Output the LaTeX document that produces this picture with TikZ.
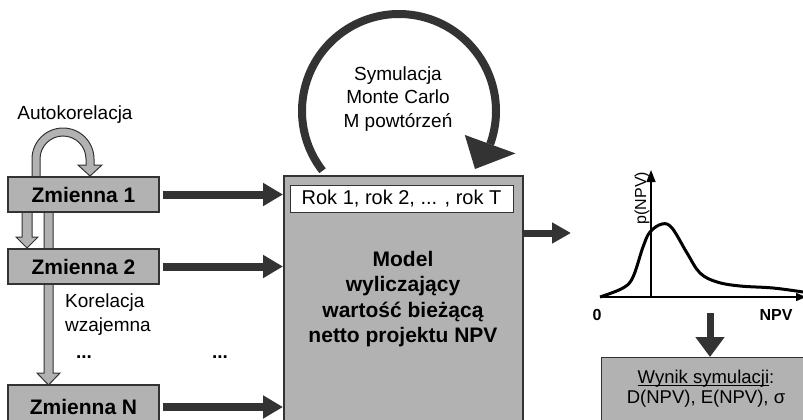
\documentclass[tikz,border=0pt]{standalone}
\usepackage{fontspec}
\setmainfont{Liberation Sans}
\usetikzlibrary{arrows.meta,calc}
\definecolor{boxgrey}{HTML}{B2B2B2}
\definecolor{ink}{HTML}{333333}
% underline set just below the baseline, crossing descenders
\newcommand\ulinetext[1]{\leavevmode\sbox0{#1}\rlap{\rule[-2.2pt]{\wd0}{0.9pt}}\box0}

\begin{document}
\begin{tikzpicture}[x=1pt,y=1pt,
  varbox/.style={draw=ink, line width=1.2pt, fill=boxgrey, minimum width=151pt,
    minimum height=35pt, inner sep=0pt, font=\fontsize{21}{25}\selectfont\bfseries},
  flowarrow/.style={draw=ink, line width=8pt, -{Triangle[length=20pt,width=22pt]}},
  hollowarrow/.style={draw=ink, line width=1pt, fill=boxgrey},
  txt/.style={font=\fontsize{19}{23.5}\selectfont, inner sep=0pt, align=center},
  axisline/.style={draw=black, line width=1.5pt},
]
\useasboundingbox (0,0) rectangle (803,-420);
\clip (0,0) rectangle (803,-420);

% --- correlation arrows behind the variable boxes ---
\filldraw[hollowarrow] (32,-180) -- (32,-159) arc[start angle=180, end angle=0, radius=31]
  -- (94,-165) -- (102,-165) -- (90,-176) -- (78,-165) -- (86,-165)
  -- (86,-159) arc[start angle=0, end angle=180, radius=23] -- (40,-180) -- cycle;
\filldraw[hollowarrow] (22,-205) -- (22,-237) -- (16,-237) -- (27,-248) -- (38,-237)
  -- (32,-237) -- (32,-205) -- cycle;
\filldraw[hollowarrow] (44,-205) -- (44,-373) -- (37,-373) -- (48.5,-385) -- (60,-373)
  -- (53,-373) -- (53,-205) -- cycle;

% --- input variables ---
\node[varbox] (z1) at (83.5,-194.5) {Zmienna 1};
\node[varbox] (z2) at (83.5,-266.5) {Zmienna 2};
\node[varbox, minimum height=44pt] (zN) at (83.5,-407) {Zmienna N};

\node[txt] (auto) at (75,-115) {Autokorelacja};
\node[txt, align=left, anchor=west, font=\fontsize{19}{24}\selectfont] (korel) at (65,-315) {Korelacja\\wzajemna};
\node[txt, font=\fontsize{19}{23.5}\selectfont\bfseries] (dots1) at (84,-357) {...};
\node[txt, font=\fontsize{19}{23.5}\selectfont\bfseries] (dots2) at (220,-357) {...};

% --- NPV model ---
\node[draw=ink, line width=1.5pt, fill=boxgrey, minimum width=239pt, minimum height=265pt,
  anchor=north west, inner sep=0pt] (model) at (283,-175) {};
\node[draw=ink, line width=1pt, fill=white, minimum width=223pt, minimum height=27pt,
  inner sep=0pt, font=\fontsize{20}{24}\selectfont] (rok) at (401.5,-198.5) {Rok 1, rok 2, ... , rok T};
\node[txt, font=\fontsize{21}{25.5}\selectfont\bfseries] (modeltxt) at (403,-299)
  {Model\\wyliczający\\wartość bieżącą\\netto projektu NPV};

\draw[flowarrow, shorten <=3pt] (z1.east) -- (z1.east -| model.west);
\draw[flowarrow, shorten <=3pt] (z2.east) -- (z2.east -| model.west);
\draw[flowarrow, shorten <=3pt] (zN.east) -- (zN.east -| model.west);

% --- Monte Carlo loop ---
\coordinate (loopc) at (399,-111);
\draw[ink, line width=8pt] ($(loopc)+(218:97)$) arc[start angle=218, end angle=-20, radius=97];
\fill[ink] ($(loopc)+(-20:70)$) -- ($(loopc)+(-20:124)$) -- (475,-169) -- cycle;
\node[txt] (mc) at (398,-99) {Symulacja\\Monte Carlo\\M powtórzeń};

% --- output ---
\coordinate (outtip) at (571,-233);
\draw[draw=ink, line width=7pt, -{Triangle[length=19pt,width=20pt]}] (outtip -| model.east) -- (outtip);

% --- distribution of NPV ---
\coordinate (o) at (651,-297);
\draw[axisline, -{Triangle[length=10pt,width=8pt]}] (600,-297) -- (806,-297);
\draw[axisline, -{Triangle[length=12pt,width=9pt]}] (o) -- (651,-170);
\draw[black, line width=3pt, line join=round] plot[smooth, tension=0.6] coordinates
  {(600,-297) (623,-288) (633,-277) (643,-247) (650,-232) (662,-224) (672,-228)
   (687,-253) (700,-273) (717,-282) (740,-286) (773,-288) (803,-292)};
\node[font=\fontsize{16}{18}\selectfont, rotate=90, inner sep=0pt] (py) at (642,-198) {p(NPV)};
\node[font=\fontsize{16}{18}\selectfont\bfseries, inner sep=0pt] (zero) at (597,-315) {0};
\node[font=\fontsize{16}{18}\selectfont\bfseries, inner sep=0pt] (npv) at (776,-315) {NPV};

% --- simulation result ---
\node[draw=ink, line width=1.2pt, fill=boxgrey, minimum width=214pt, minimum height=80pt,
  anchor=north west, inner sep=0pt] (result) at (601,-357) {};
\node[txt, font=\fontsize{18.5}{20}\selectfont] (restxt) at (706,-389)
  {\ulinetext{Wynik symulacji}:\\D(NPV), E(NPV), σ};
\coordinate (dtop) at (710,-313);
\draw[draw=ink, line width=7pt, -{Triangle[length=20pt,width=28pt]}] (dtop) -- (dtop |- result.north);
\end{tikzpicture}
\end{document}
